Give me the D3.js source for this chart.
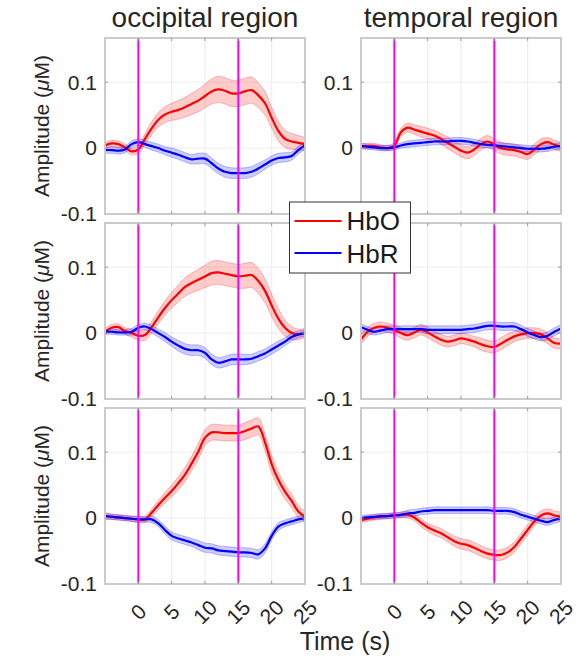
<!DOCTYPE html>
<html lang="en">
<head>
    <meta charset="UTF-8">
    <title>HbO / HbR block averages</title>
    <script src="https://cdn.jsdelivr.net/npm/d3@7"></script>
    <style>
        body {
            margin: 0;
            background-color: white;
        }

        svg {
            display: block;
            font-family: "Liberation Sans", Arial, sans-serif;
        }

        .tick-label {
            font-size: 21px;
            fill: #262626;
        }
    </style>
</head>
<body>
    <script>
        // time samples (s)
        const timeS = [-5, -4, -3, -2, -1, 0, 1, 2, 3, 4, 5, 6, 7, 8, 9, 10, 11, 12, 13, 14, 15, 16, 17, 18, 19, 20, 21, 22, 23, 24, 25];
        const xTicks = [0, 5, 10, 15, 20, 25];
        const yTicks = [-0.1, 0, 0.1];
        const yTickLabels = ['-0.1', '0', '0.1'];
        const stimLines = [0, 15];
        const regionTitles = ['occipital region', 'temporal region'];
        const seriesNames = ['HbO', 'HbR'];

        // occipital, row 1
        const occ1HbO = [0.004, 0.007, 0.006, 0.001, -0.005, -0.002, 0.014, 0.030, 0.043, 0.051, 0.055, 0.058, 0.062, 0.067, 0.072, 0.079, 0.086, 0.089, 0.087, 0.083, 0.083, 0.086, 0.088, 0.080, 0.068, 0.046, 0.026, 0.014, 0.010, 0.008, 0.006];
        const occ1HbOErr = [0.005, 0.005, 0.005, 0.005, 0.005, 0.006, 0.008, 0.010, 0.011, 0.012, 0.013, 0.014, 0.015, 0.016, 0.017, 0.018, 0.019, 0.020, 0.020, 0.020, 0.020, 0.020, 0.020, 0.019, 0.018, 0.016, 0.015, 0.013, 0.012, 0.011, 0.010];
        const occ1HbR = [-0.003, -0.003, -0.004, -0.002, 0.006, 0.009, 0.006, 0.003, 0.000, -0.004, -0.007, -0.010, -0.014, -0.017, -0.016, -0.016, -0.023, -0.031, -0.036, -0.038, -0.038, -0.038, -0.036, -0.031, -0.025, -0.019, -0.015, -0.014, -0.012, -0.003, 0.004];
        const occ1HbRErr = [0.005, 0.005, 0.005, 0.005, 0.005, 0.005, 0.005, 0.006, 0.006, 0.006, 0.007, 0.007, 0.007, 0.007, 0.008, 0.008, 0.008, 0.008, 0.008, 0.008, 0.008, 0.008, 0.008, 0.008, 0.007, 0.007, 0.007, 0.007, 0.006, 0.006, 0.006];

        // occipital, row 2
        const occ2HbO = [0.002, 0.008, 0.009, 0.003, 0.000, -0.004, -0.003, 0.009, 0.024, 0.038, 0.050, 0.060, 0.070, 0.076, 0.081, 0.086, 0.091, 0.092, 0.090, 0.088, 0.086, 0.087, 0.088, 0.079, 0.064, 0.042, 0.022, 0.008, 0.000, -0.002, 0.000];
        const occ2HbOErr = [0.005, 0.005, 0.005, 0.005, 0.006, 0.007, 0.008, 0.009, 0.010, 0.011, 0.012, 0.013, 0.014, 0.015, 0.016, 0.017, 0.018, 0.018, 0.018, 0.018, 0.018, 0.019, 0.019, 0.019, 0.018, 0.017, 0.015, 0.012, 0.010, 0.008, 0.007];
        const occ2HbR = [0.002, 0.002, 0.001, 0.001, 0.002, 0.008, 0.010, 0.006, 0.000, -0.006, -0.013, -0.019, -0.024, -0.026, -0.026, -0.030, -0.040, -0.045, -0.043, -0.040, -0.040, -0.040, -0.039, -0.035, -0.031, -0.025, -0.019, -0.013, -0.006, -0.002, 0.000];
        const occ2HbRErr = [0.004, 0.004, 0.004, 0.004, 0.005, 0.005, 0.005, 0.006, 0.006, 0.007, 0.007, 0.008, 0.008, 0.008, 0.008, 0.008, 0.008, 0.008, 0.008, 0.008, 0.008, 0.008, 0.007, 0.007, 0.007, 0.007, 0.007, 0.006, 0.006, 0.005, 0.005];

        // occipital, row 3
        const occ3HbO = [0.003, 0.002, 0.001, 0.000, -0.001, -0.002, -0.002, 0.008, 0.020, 0.031, 0.041, 0.053, 0.066, 0.083, 0.101, 0.122, 0.130, 0.130, 0.129, 0.129, 0.129, 0.132, 0.136, 0.139, 0.115, 0.082, 0.058, 0.040, 0.026, 0.010, 0.002];
        const occ3HbOErr = [0.006, 0.004, 0.004, 0.004, 0.004, 0.005, 0.005, 0.006, 0.007, 0.008, 0.009, 0.010, 0.011, 0.011, 0.012, 0.012, 0.012, 0.012, 0.012, 0.012, 0.012, 0.013, 0.013, 0.013, 0.013, 0.013, 0.012, 0.011, 0.010, 0.009, 0.008];
        const occ3HbR = [0.003, 0.002, 0.001, 0.000, -0.001, -0.002, -0.002, -0.002, -0.008, -0.018, -0.027, -0.031, -0.034, -0.037, -0.041, -0.045, -0.046, -0.049, -0.050, -0.051, -0.052, -0.052, -0.053, -0.055, -0.046, -0.027, -0.013, -0.008, -0.005, -0.002, 0.000];
        const occ3HbRErr = [0.004, 0.004, 0.004, 0.004, 0.004, 0.004, 0.004, 0.005, 0.005, 0.006, 0.006, 0.006, 0.006, 0.006, 0.007, 0.007, 0.007, 0.007, 0.007, 0.007, 0.007, 0.007, 0.007, 0.007, 0.007, 0.006, 0.006, 0.005, 0.005, 0.005, 0.004];

        // temporal, row 1
        const tmp1HbO = [0.003, 0.003, 0.003, 0.001, 0.000, 0.004, 0.024, 0.031, 0.028, 0.025, 0.022, 0.019, 0.014, 0.008, 0.002, -0.004, -0.007, -0.002, 0.006, 0.010, 0.005, 0.000, -0.002, -0.003, -0.006, -0.009, -0.002, 0.006, 0.009, 0.005, 0.002];
        const tmp1HbOErr = [0.004, 0.004, 0.004, 0.004, 0.004, 0.005, 0.006, 0.007, 0.007, 0.008, 0.008, 0.008, 0.008, 0.009, 0.009, 0.009, 0.009, 0.009, 0.009, 0.009, 0.009, 0.009, 0.009, 0.009, 0.009, 0.008, 0.008, 0.008, 0.007, 0.007, 0.007];
        const tmp1HbR = [0.003, 0.002, 0.001, 0.000, 0.000, 0.001, 0.004, 0.006, 0.007, 0.008, 0.009, 0.010, 0.010, 0.010, 0.011, 0.011, 0.010, 0.008, 0.006, 0.005, 0.004, 0.003, 0.002, 0.001, 0.000, -0.001, -0.001, -0.001, 0.000, 0.002, 0.003];
        const tmp1HbRErr = [0.004, 0.004, 0.004, 0.004, 0.004, 0.004, 0.004, 0.005, 0.005, 0.005, 0.005, 0.005, 0.005, 0.005, 0.005, 0.005, 0.005, 0.005, 0.005, 0.005, 0.005, 0.005, 0.005, 0.005, 0.005, 0.005, 0.005, 0.005, 0.005, 0.005, 0.005];

        // temporal, row 2
        const tmp2HbO = [-0.010, 0.002, 0.008, 0.010, 0.008, 0.005, 0.000, -0.003, 0.001, 0.005, 0.001, -0.005, -0.010, -0.013, -0.011, -0.008, -0.010, -0.013, -0.017, -0.020, -0.021, -0.016, -0.010, -0.005, -0.002, 0.000, 0.000, -0.002, -0.008, -0.015, -0.016];
        const tmp2HbOErr = [0.007, 0.007, 0.007, 0.007, 0.007, 0.007, 0.008, 0.008, 0.008, 0.008, 0.008, 0.008, 0.008, 0.008, 0.008, 0.008, 0.008, 0.008, 0.009, 0.009, 0.009, 0.009, 0.009, 0.008, 0.008, 0.008, 0.008, 0.008, 0.008, 0.008, 0.008];
        const tmp2HbR = [0.009, 0.005, 0.002, 0.004, 0.006, 0.006, 0.006, 0.006, 0.006, 0.006, 0.005, 0.005, 0.005, 0.005, 0.005, 0.005, 0.006, 0.007, 0.009, 0.011, 0.011, 0.010, 0.010, 0.010, 0.006, 0.001, -0.003, -0.006, -0.004, 0.002, 0.007];
        const tmp2HbRErr = [0.005, 0.005, 0.005, 0.005, 0.005, 0.005, 0.005, 0.005, 0.005, 0.005, 0.006, 0.006, 0.006, 0.006, 0.006, 0.006, 0.006, 0.006, 0.006, 0.006, 0.006, 0.006, 0.006, 0.006, 0.006, 0.006, 0.006, 0.006, 0.006, 0.006, 0.006];

        // temporal, row 3
        const tmp3HbO = [-0.003, -0.001, 0.001, 0.002, 0.003, 0.004, 0.005, 0.005, 0.001, -0.007, -0.014, -0.019, -0.023, -0.029, -0.035, -0.039, -0.041, -0.045, -0.050, -0.054, -0.056, -0.056, -0.052, -0.044, -0.031, -0.018, -0.005, 0.004, 0.007, 0.004, 0.002];
        const tmp3HbOErr = [0.004, 0.004, 0.004, 0.004, 0.004, 0.004, 0.004, 0.005, 0.005, 0.006, 0.006, 0.007, 0.007, 0.007, 0.008, 0.008, 0.008, 0.008, 0.008, 0.008, 0.008, 0.008, 0.008, 0.008, 0.008, 0.008, 0.007, 0.007, 0.007, 0.007, 0.007];
        const tmp3HbR = [0.000, 0.001, 0.002, 0.003, 0.003, 0.004, 0.005, 0.007, 0.008, 0.010, 0.011, 0.012, 0.012, 0.012, 0.012, 0.012, 0.012, 0.012, 0.012, 0.012, 0.011, 0.011, 0.011, 0.009, 0.005, 0.002, -0.001, -0.004, -0.006, -0.003, 0.000];
        const tmp3HbRErr = [0.004, 0.004, 0.004, 0.004, 0.004, 0.004, 0.004, 0.005, 0.005, 0.005, 0.005, 0.005, 0.005, 0.005, 0.005, 0.005, 0.005, 0.005, 0.005, 0.005, 0.005, 0.005, 0.005, 0.005, 0.005, 0.005, 0.005, 0.005, 0.005, 0.005, 0.005];

        const panels = [
            { col: 0, row: 0, hbo: occ1HbO, hboErr: occ1HbOErr, hbr: occ1HbR, hbrErr: occ1HbRErr },
            { col: 0, row: 1, hbo: occ2HbO, hboErr: occ2HbOErr, hbr: occ2HbR, hbrErr: occ2HbRErr },
            { col: 0, row: 2, hbo: occ3HbO, hboErr: occ3HbOErr, hbr: occ3HbR, hbrErr: occ3HbRErr },
            { col: 1, row: 0, hbo: tmp1HbO, hboErr: tmp1HbOErr, hbr: tmp1HbR, hbrErr: tmp1HbRErr },
            { col: 1, row: 1, hbo: tmp2HbO, hboErr: tmp2HbOErr, hbr: tmp2HbR, hbrErr: tmp2HbRErr },
            { col: 1, row: 2, hbo: tmp3HbO, hboErr: tmp3HbOErr, hbr: tmp3HbR, hbrErr: tmp3HbRErr }
        ];

        const w = 585;
        const h = 664;
        const colX = [105, 361];
        const rowY = [38, 223, 408];
        const pw = 200;
        const ph = 176;
        const red = '#ff0000';
        const blue = '#0000ff';
        const frame = '#cbcbcb';

        const svg = d3.select('body')
            .append('svg')
            .attr('width', w)
            .attr('height', h);

        const xScale = d3.scaleLinear().domain([-5, 25]).range([0, pw]);
        const yScale = d3.scaleLinear().domain([-0.1, 0.167]).range([ph, 0]);

        const defs = svg.append('defs');
        defs.append('clipPath').attr('id', 'clip')
            .append('rect').attr('width', pw).attr('height', ph);

        panels.forEach(p => {
            const g = svg.append('g')
                .attr('transform', `translate(${colX[p.col]}, ${rowY[p.row]})`);

            // grid
            g.append('g').selectAll('line')
                .data(xTicks.filter(t => t < 25))
                .enter().append('line')
                .attr('x1', d => xScale(d)).attr('x2', d => xScale(d))
                .attr('y1', 0).attr('y2', ph)
                .attr('stroke', '#ececec').attr('stroke-width', 1);
            g.append('g').selectAll('line')
                .data(yTicks.filter(t => t > -0.1))
                .enter().append('line')
                .attr('x1', 0).attr('x2', pw)
                .attr('y1', d => yScale(d)).attr('y2', d => yScale(d))
                .attr('stroke', '#ececec').attr('stroke-width', 1);

            const plot = g.append('g').attr('clip-path', 'url(#clip)');

            const series = [
                { mean: p.hbo, err: p.hboErr, color: red },
                { mean: p.hbr, err: p.hbrErr, color: blue }
            ];

            series.forEach(s => {
                const pts = timeS.map((t, i) => ({ t: t, m: s.mean[i], e: s.err[i] }));
                const area = d3.area()
                    .x(d => xScale(d.t))
                    .y0(d => yScale(d.m - d.e))
                    .y1(d => yScale(d.m + d.e))
                    .curve(d3.curveCatmullRom);
                plot.append('path')
                    .datum(pts)
                    .attr('d', area)
                    .attr('fill', s.color)
                    .attr('fill-opacity', 0.2)
                    .attr('stroke', s.color)
                    .attr('stroke-opacity', 0.25)
                    .attr('stroke-width', 1);
            });

            series.forEach(s => {
                const pts = timeS.map((t, i) => ({ t: t, m: s.mean[i] }));
                const line = d3.line()
                    .x(d => xScale(d.t))
                    .y(d => yScale(d.m))
                    .curve(d3.curveCatmullRom);
                plot.append('path')
                    .datum(pts)
                    .attr('d', line)
                    .attr('fill', 'none')
                    .attr('stroke', s.color)
                    .attr('stroke-width', 2.2);
            });

            // stimulus on/off
            g.append('g').selectAll('line')
                .data(stimLines)
                .enter().append('line')
                .attr('x1', d => xScale(d)).attr('x2', d => xScale(d))
                .attr('y1', 0).attr('y2', ph)
                .attr('stroke', '#ff00ff').attr('stroke-width', 2);

            // frame
            g.append('rect')
                .attr('width', pw).attr('height', ph)
                .attr('fill', 'none')
                .attr('stroke', frame).attr('stroke-width', 2);

            // tick marks
            const tk = g.append('g').attr('stroke', '#9a9a9a').attr('stroke-width', 1);
            xTicks.filter(t => t < 25).forEach(t => {
                tk.append('line').attr('x1', xScale(t)).attr('x2', xScale(t)).attr('y1', ph).attr('y2', ph - 3);
                tk.append('line').attr('x1', xScale(t)).attr('x2', xScale(t)).attr('y1', 0).attr('y2', 3);
            });
            yTicks.filter(t => t > -0.1).forEach(t => {
                tk.append('line').attr('x1', 0).attr('x2', 3).attr('y1', yScale(t)).attr('y2', yScale(t));
                tk.append('line').attr('x1', pw).attr('x2', pw - 3).attr('y1', yScale(t)).attr('y2', yScale(t));
            });

            // y tick labels (the ones sitting under the legend box are hidden there)
            const hidden = p.col === 1 ? (p.row === 0 ? -0.1 : p.row === 1 ? 0.1 : null) : null;
            g.append('g').selectAll('text')
                .data(yTicks.filter(t => t !== hidden))
                .enter().append('text')
                .attr('class', 'tick-label')
                .attr('x', -8)
                .attr('y', d => yScale(d))
                .attr('dy', '0.35em')
                .attr('text-anchor', 'end')
                .text(d => yTickLabels[yTicks.indexOf(d)]);

            // x tick labels on bottom row
            if (p.row === 2) {
                g.append('g').selectAll('text')
                    .data(xTicks)
                    .enter().append('text')
                    .attr('class', 'tick-label')
                    .attr('transform', d => `translate(${xScale(d)}, ${ph + 28}) rotate(-45)`)
                    .attr('text-anchor', 'middle')
                    .attr('dy', '0.35em')
                    .text(d => d);
            }

            if (p.col === 0) {
                const lab = g.append('text')
                    .attr('transform', `translate(-63, ${ph / 2}) rotate(-90)`)
                    .attr('text-anchor', 'middle')
                    .attr('dy', '0.35em')
                    .attr('font-size', 21)
                    .attr('fill', '#262626');
                lab.append('tspan').text('Amplitude (');
                lab.append('tspan').attr('font-style', 'italic').text('\u03bc');
                lab.append('tspan').text('M)');
            }

            if (p.row === 0) {
                g.append('text')
                    .attr('x', pw / 2)
                    .attr('y', -11)
                    .attr('text-anchor', 'middle')
                    .attr('font-size', 28)
                    .attr('fill', '#262626')
                    .text(regionTitles[p.col]);
            }
        });

        svg.append('text')
            .attr('x', 345)
            .attr('y', 650)
            .attr('text-anchor', 'middle')
            .attr('font-size', 25)
            .attr('fill', '#262626')
            .text('Time (s)');

        // legend
        const lg = svg.append('g').attr('transform', 'translate(289.5, 202)');
        lg.append('rect')
            .attr('width', 121).attr('height', 71)
            .attr('fill', 'white')
            .attr('stroke', '#333').attr('stroke-width', 1);
        [red, blue].forEach((c, i) => {
            lg.append('line')
                .attr('x1', 5).attr('x2', 52)
                .attr('y1', 19 + i * 32).attr('y2', 19 + i * 32)
                .attr('stroke', c).attr('stroke-width', 2);
            lg.append('text')
                .attr('x', 57)
                .attr('y', 28 + i * 33)
                .attr('font-size', 26)
                .attr('fill', '#1a1a1a')
                .text(seriesNames[i]);
        });
    </script>
</body>
</html>
